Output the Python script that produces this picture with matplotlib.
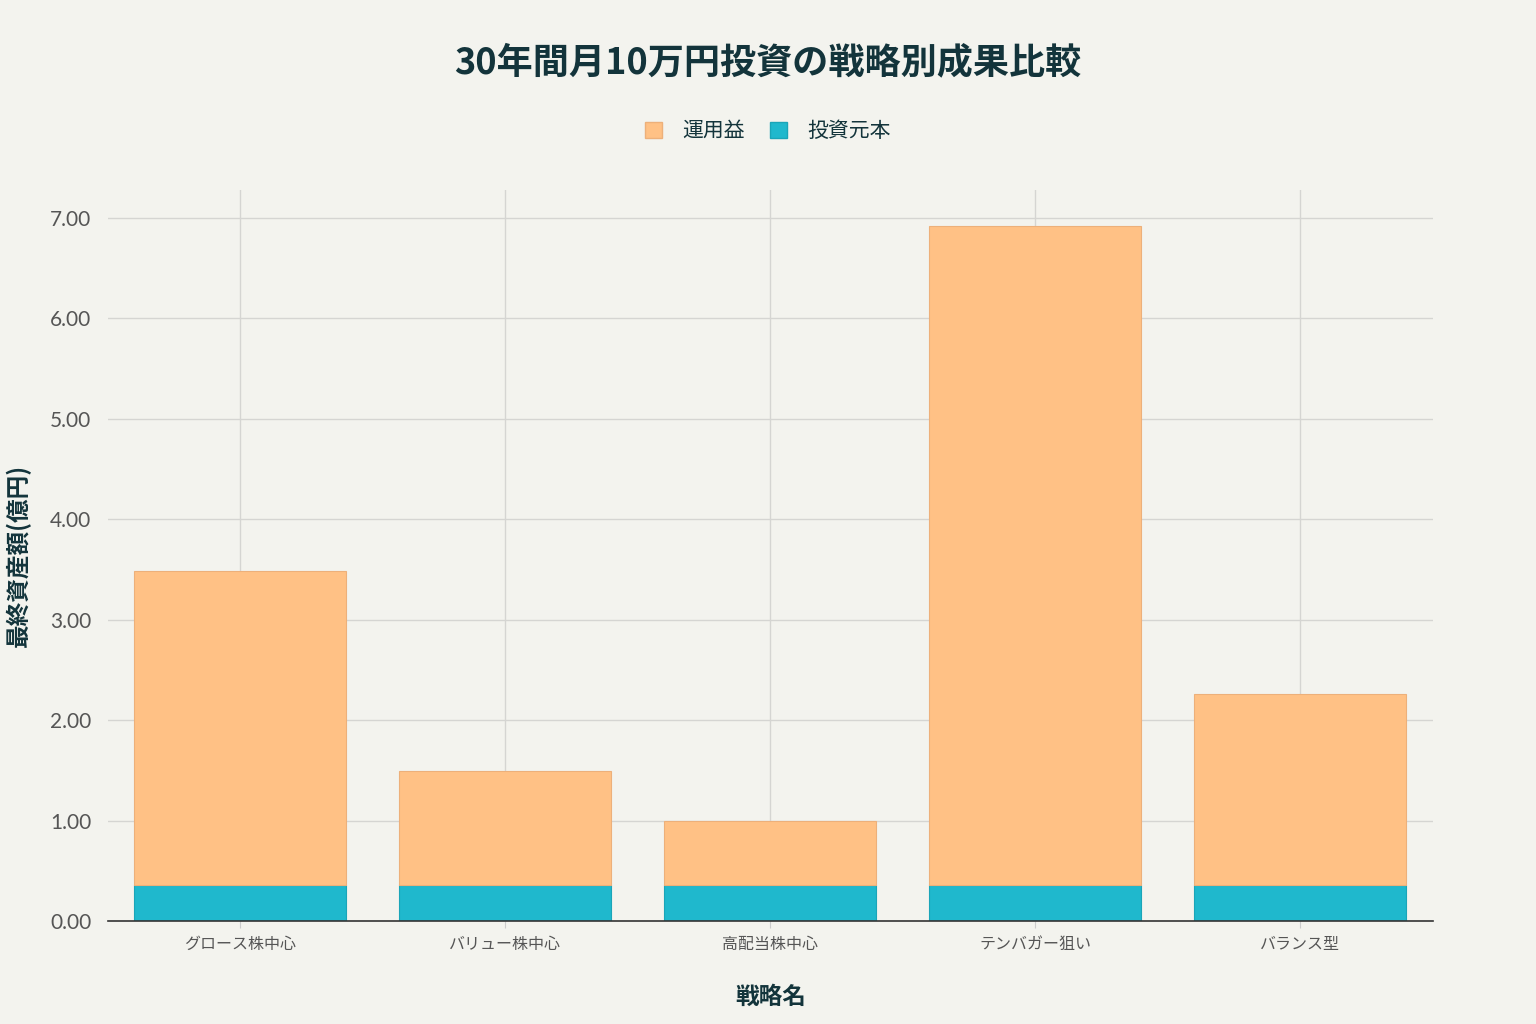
import matplotlib.pyplot as plt
import numpy as np

plt.rcParams['font.family'] = ['Noto Sans CJK JP', 'DejaVu Sans']

# 戦略別の最終資産額（億円）
strategies = ['グロース株中心', 'バリュー株中心', '高配当株中心', 'テンバガー狙い', 'バランス型']
principal = [0.36, 0.36, 0.36, 0.36, 0.36]
total = [3.49, 1.49, 1.00, 6.92, 2.26]
profit = [t - p for t, p in zip(total, principal)]

bg = '#F3F3EE'
fig = plt.figure(figsize=(15.36, 10.24), dpi=100, facecolor=bg)
ax = fig.add_axes([0.0703, 0.1006, 0.8626, 0.7139], facecolor=bg)

x = np.arange(len(strategies))
ax.bar(x, principal, width=0.8, color='#1FB8CD', edgecolor='#1AA5B8', linewidth=0.8, zorder=3)
ax.bar(x, profit, width=0.8, bottom=principal, color='#FFC185', edgecolor='#EDB07A',
       linewidth=0.8, zorder=3)

ax.set_xlim(-0.5, 4.5)
ax.set_ylim(0, 7.28)
ax.set_yticks(np.arange(0, 8, 1))
ax.set_yticklabels(['%.2f' % v for v in np.arange(0, 8, 1)], fontsize=15, color='#555555',
                   family=['Lato', 'DejaVu Sans'])
ax.set_xticks(x)
ax.set_xticklabels(strategies, fontsize=11.5, color='#555555')
ax.tick_params(axis='y', length=0, pad=12)
ax.tick_params(axis='x', length=5, color='#CCCCCC', pad=6)
ax.grid(True, color='#D5D5D2', linewidth=1, zorder=0)
for s in ['top', 'right', 'left']:
    ax.spines[s].set_visible(False)
ax.spines['bottom'].set_color('#333333')
ax.spines['bottom'].set_linewidth(1.2)
ax.spines['bottom'].set_zorder(4)

ax.set_xlabel('戦略名', fontsize=17, fontweight='bold', color='#13343B', labelpad=23)
ax.set_ylabel('最終資産額(億円)', fontsize=17, fontweight='bold', color='#13343B', labelpad=14)

fig.text(0.5, 0.939, '30年間月10万円投資の戦略別成果比較', ha='center', va='center',
         fontsize=26, fontweight='bold', color='#13343B')

# 凡例
from matplotlib.patches import Patch
handles = [Patch(facecolor='#FFC185', edgecolor='#EDB07A'),
           Patch(facecolor='#1FB8CD', edgecolor='#1AA5B8')]
fig.legend(handles, ['運用益', '投資元本'], loc='center', bbox_to_anchor=(0.5, 0.872),
           ncol=2, frameon=False, fontsize=15, handlelength=0.8, handleheight=0.8,
           columnspacing=1.2, handletextpad=1.0, labelcolor='#13343B')

fig.savefig('out.png', dpi=100, facecolor=bg)
